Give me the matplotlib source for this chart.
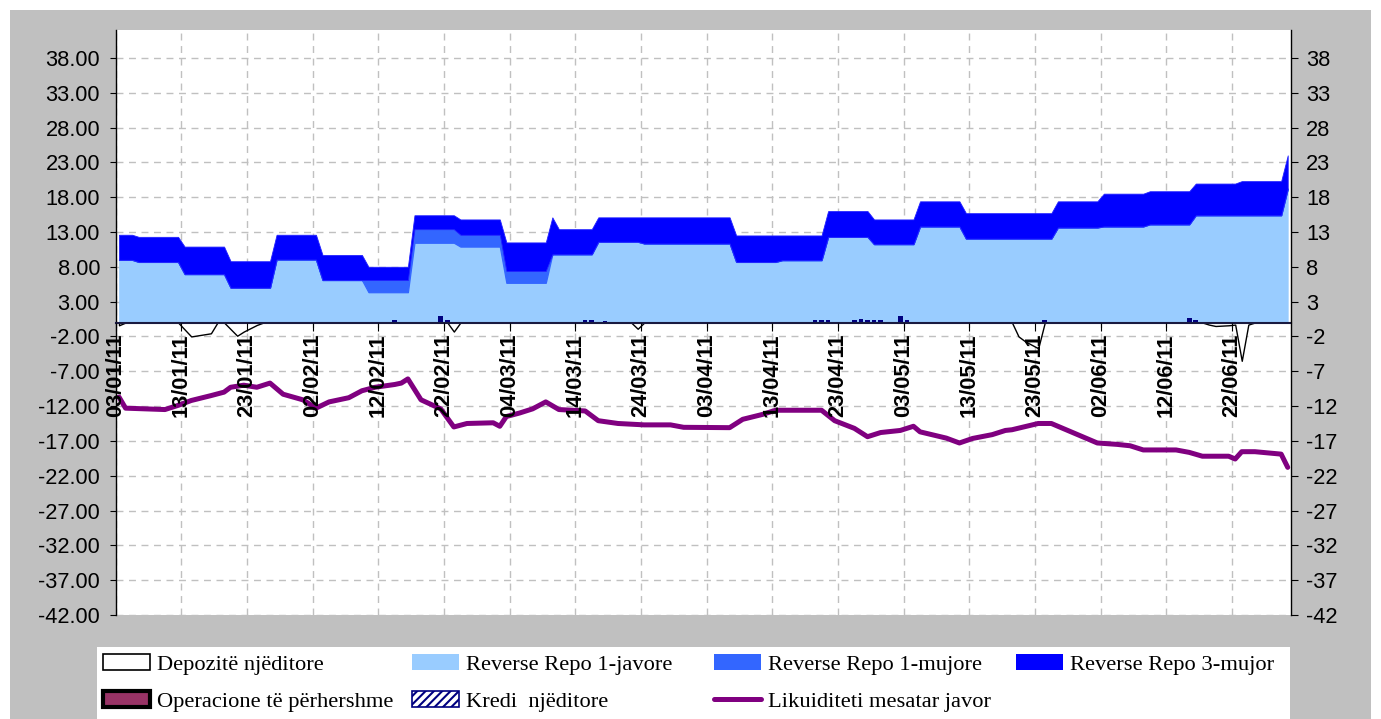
import numpy as np
import matplotlib.pyplot as plt
from matplotlib.patches import Rectangle, Patch
from matplotlib.lines import Line2D
from matplotlib.ticker import FormatStrFormatter

plt.rcParams['font.family'] = ['Liberation Sans', 'DejaVu Sans']
plt.rcParams['hatch.linewidth'] = 1.5

W, H = 1381, 719

# date labels on the x axis (one every 10 days, starting 03/01/11)
tick_labels = ['03/01/11', '13/01/11', '23/01/11', '02/02/11', '12/02/11', '22/02/11',
               '04/03/11', '14/03/11', '24/03/11', '03/04/11', '13/04/11', '23/04/11',
               '03/05/11', '13/05/11', '23/05/11', '02/06/11', '12/06/11', '22/06/11']
tick_days = [0, 10, 20, 30, 40, 50, 60, 70, 80, 90, 100, 110, 120, 130, 140, 150, 160, 170]

# reverse repo stock (day index counted from 03/01/11, values in bln)
area_days = [0, 2, 3, 9, 10, 16, 17, 23, 24, 30, 31, 37, 38, 44, 45, 51, 52, 58, 59, 65,
             66, 67, 72, 73, 79, 80, 93, 94, 100, 101, 107, 108, 114, 115, 121, 122, 128,
             129, 142, 143, 149, 150, 156, 157, 163, 164, 170, 171, 177, 178]
repo_1j = [9.0, 9.0, 8.7, 8.7, 6.95, 6.95, 5.0, 5.0, 9.05, 9.05, 6.1, 6.1, 4.35, 4.35,
           11.45, 11.45, 10.9, 10.9, 5.7, 5.7, 9.8, 9.8, 9.8, 11.6, 11.6, 11.35, 11.35,
           8.7, 8.7, 8.95, 8.95, 12.3, 12.3, 11.25, 11.25, 13.8, 13.8, 12.05, 12.05,
           13.65, 13.65, 13.8, 13.8, 14.1, 14.1, 15.4, 15.4, 15.4, 15.4, 19.2]
repo_1m = [0, 0, 0, 0, 0, 0, 0, 0, 0, 0, 0, 0, 1.75, 1.75, 1.95, 1.95, 1.7, 1.7, 1.7, 1.7,
           0, 0, 0, 0, 0, 0, 0, 0, 0, 0, 0, 0, 0, 0, 0, 0, 0, 0, 0, 0, 0, 0, 0, 0, 0, 0,
           0, 0, 0, 0]
repo_3m = [3.6, 3.6, 3.6, 3.6, 3.95, 3.95, 3.8, 3.8, 3.55, 3.55, 3.6, 3.6, 1.9, 1.9,
           2.0, 2.0, 2.2, 2.2, 4.1, 4.1, 5.3, 3.6, 3.6, 3.5, 3.5, 3.75, 3.75, 3.8, 3.8,
           3.55, 3.55, 3.7, 3.7, 3.55, 3.55, 3.6, 3.6, 3.65, 3.65, 3.75, 3.75, 4.7, 4.7,
           4.75, 4.75, 4.55, 4.55, 4.9, 4.9, 4.8]

# overnight deposits
dep_days = [0, 1, 9, 11, 14, 15, 16, 18, 19, 21, 22, 50, 51, 52, 78, 79, 80, 136, 137,
            138, 140, 141, 165, 166, 167, 169, 170, 171, 172, 173, 178]
dep_vals = [-0.4, 0, 0, -2.0, -1.55, 0, 0, -1.9, -1.3, -0.35, 0, 0, -1.3, 0, 0, -0.9, 0,
            0, -2.0, -2.7, -3.7, 0, 0, -0.3, -0.5, -0.4, -0.3, -5.5, -0.3, 0, 0]

# overnight credit
kredi_days = [42, 49, 50, 71, 72, 74, 106, 107, 108, 112, 113, 114, 115, 116, 119, 120,
              141, 163, 164]
kredi_vals = [0.3, 1.0, 0.35, 0.3, 0.3, 0.25, 0.3, 0.3, 0.3, 0.3, 0.5, 0.3, 0.3, 0.3,
              1.0, 0.3, 0.35, 0.7, 0.4]

# weekly average liquidity
liq_days = [0, 1, 4, 7, 9, 11, 14, 16, 17, 19, 21, 23, 25, 28, 30, 32, 35, 37, 39, 42,
            43, 44, 46, 49, 51, 53, 57, 58, 59, 61, 63, 65, 67, 71, 73, 76, 80, 84, 86,
            93, 95, 98, 100, 107, 109, 112, 114, 116, 119, 121, 122, 126, 128, 130, 133,
            135, 136, 140, 142, 144, 146, 149, 152, 154, 156, 161, 163, 165, 169, 170,
            171, 173, 177, 178]
liq_vals = [-10.7, -12.3, -12.4, -12.5, -11.9, -11.2, -10.5, -10.0, -9.3, -9.0, -9.3,
            -8.7, -10.3, -11.1, -12.3, -11.4, -10.8, -9.8, -9.3, -8.9, -8.7, -8.1, -11.1,
            -12.4, -15.0, -14.5, -14.4, -14.9, -13.5, -13.0, -12.4, -11.4, -12.5, -12.7,
            -14.1, -14.5, -14.7, -14.7, -15.05, -15.1, -13.9, -13.2, -12.6, -12.6, -14.1,
            -15.2, -16.4, -15.8, -15.5, -14.9, -15.7, -16.6, -17.3, -16.65, -16.1, -15.5,
            -15.4, -14.5, -14.5, -15.3, -16.1, -17.3, -17.5, -17.7, -18.3, -18.3, -18.65,
            -19.2, -19.2, -19.6, -18.55, -18.55, -18.9, -20.8]

# each day is drawn in the middle of its slot
x_area = np.array(area_days) + 0.5
x_dep = np.array(dep_days) + 0.5
x_kredi = np.array(kredi_days) + 0.5
x_liq = np.array(liq_days) + 0.5

fig = plt.figure(figsize=(W / 100, H / 100), dpi=100)
fig.patch.set_facecolor('white')
fig.add_artist(Rectangle((10 / W, 0), 1361 / W, (H - 10) / H, transform=fig.transFigure,
                         facecolor='#C0C0C0', edgecolor='none', zorder=-2))
fig.add_artist(Rectangle((97 / W, 0), 1193 / W, 72 / H, transform=fig.transFigure,
                         facecolor='white', edgecolor='none', zorder=-1))

ax = fig.add_axes([115.7 / W, 1 - 615 / H, 1175.3 / W, 585 / H])
ax.set_facecolor('white')
ax.set_xlim(0, 179)
ax.set_ylim(-42, 42)
ax.set_axisbelow(True)

yticks = np.arange(-42, 39, 5)
ax.set_yticks(yticks)
ax.yaxis.set_major_formatter(FormatStrFormatter('%.2f'))
ax.tick_params(axis='y', labelsize=15.7, length=4.3, pad=7, width=0.8)
ax.yaxis.grid(True, color='#C0C0C0', linestyle=(0, (5, 4)), linewidth=1)
ax.vlines(tick_days, -42, 42, colors='#C0C0C0', linestyles=(0, (5, 4)), linewidth=1,
          zorder=0.6)

# stacked reverse repo
polys = ax.stackplot(x_area, repo_1j, repo_1m, repo_3m,
                     colors=['#99CCFF', '#3366FF', '#0000FF'], zorder=1)
polys[0].set_edgecolor('#99CCFF')
polys[0].set_linewidth(0.5)
polys[1].set_edgecolor('#3366FF')
polys[1].set_linewidth(0.9)
polys[2].set_edgecolor('#2222FF')
polys[2].set_linewidth(0.6)

ax.fill_between(x_dep, dep_vals, 0, facecolor='white', edgecolor='black', linewidth=1,
                zorder=1.2)
ax.bar(x_kredi, kredi_vals, width=0.7, color='#000080', zorder=1.5)
ax.plot(x_liq, liq_vals, color='#800080', linewidth=3.6, zorder=2,
        solid_joinstyle='round', solid_capstyle='round')

# x axis sits on zero, labels drawn over the line
ax.spines['bottom'].set_position(('data', 0))
ax.spines['bottom'].set_linewidth(1.5)
ax.spines['bottom'].set_color('#1a1a40')
ax.spines['top'].set_visible(False)
ax.spines['right'].set_visible(False)
ax.spines['left'].set_linewidth(1)
ax.set_xticks(tick_days)
ax.set_xticklabels(tick_labels, rotation=90, fontweight='bold', fontsize=15.7,
                   va='top', ha='center')
ax.tick_params(axis='x', length=5.8, pad=2, width=0.8)
ax.xaxis.set_zorder(5)

ax2 = ax.twinx()
ax2.set_ylim(-42, 42)
ax2.set_yticks(yticks)
ax2.set_yticklabels([str(v) for v in yticks])
ax2.tick_params(axis='y', labelsize=15.7, length=5, pad=6, width=0.8)
for side in ['top', 'bottom', 'left']:
    ax2.spines[side].set_visible(False)
ax2.spines['right'].set_linewidth(1)

# legend, four columns laid out like the original
h_dep = Patch(facecolor='white', edgecolor='black', linewidth=1.2)
h_oper = Patch(facecolor='#993366', edgecolor='black', linewidth=3)
h_1j = Patch(facecolor='#99CCFF', edgecolor='none')
h_kredi = Patch(facecolor='white', edgecolor='#000080', hatch='////', linewidth=1.2)
h_1m = Patch(facecolor='#3366FF', edgecolor='none')
h_liq = Line2D([], [], color='#800080', linewidth=3.6, solid_capstyle='round')
h_3m = Patch(facecolor='#0000FF', edgecolor='none')

columns = [
    (103, [h_dep, h_oper], ['Depozitë njëditore', 'Operacione të përhershme']),
    (412, [h_1j, h_kredi], ['Reverse Repo 1-javore', 'Kredi  njëditore']),
    (714, [h_1m, h_liq], ['Reverse Repo 1-mujore', 'Likuiditeti mesatar javor']),
    (1016, [h_3m], ['Reverse Repo 3-mujor']),
]
for x0, handles, labels in columns:
    fig.legend(handles, labels, loc='upper left', bbox_to_anchor=(x0 / W, 1 - 654 / H),
               frameon=False, borderpad=0, borderaxespad=0, handlelength=2.1,
               handletextpad=0.3, labelspacing=0.72,
               prop={'family': 'Liberation Serif', 'size': 16.2})

fig.savefig('out.png', dpi=100, facecolor='white')
